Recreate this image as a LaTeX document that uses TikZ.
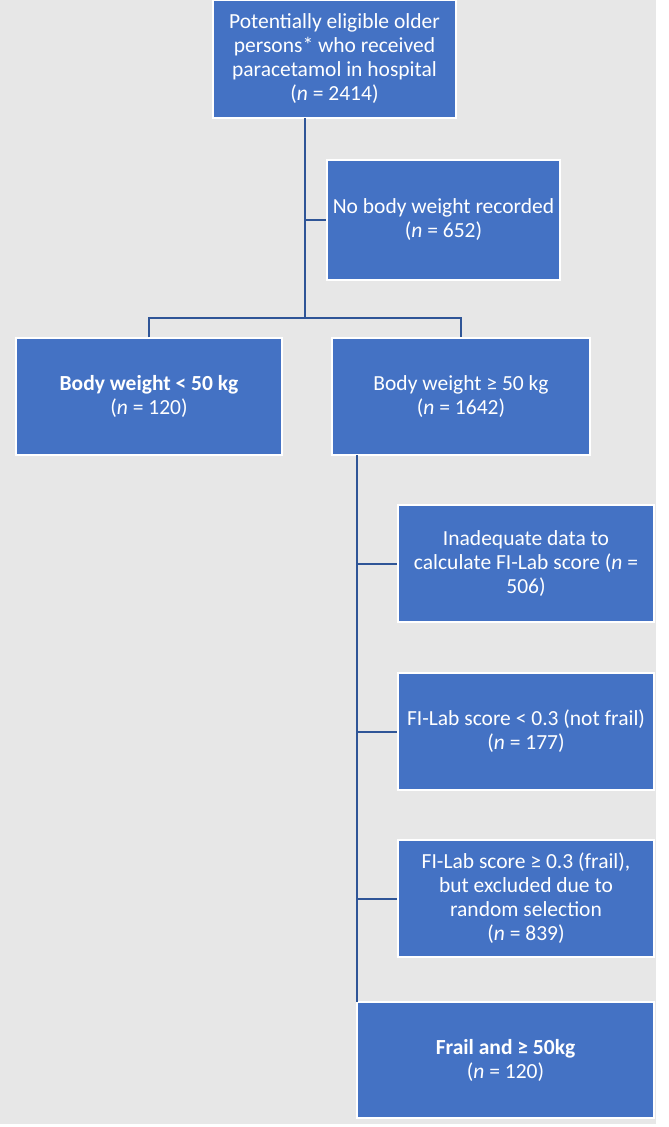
\documentclass[tikz,border=0pt]{standalone}
\usepackage{fontspec}
\setmainfont{Carlito}
\definecolor{boxblue}{HTML}{4472C4}
\definecolor{lineblue}{HTML}{2F5597}
\definecolor{bg}{HTML}{E7E7E7}
\begin{document}
\begin{tikzpicture}[x=1pt,y=-1pt,
  bx/.style={draw=white,line width=1.2pt,fill=boxblue,text=white,align=center,font=\fontsize{21.5}{24}\selectfont,inner sep=2pt},
  ln/.style={draw=lineblue,line width=2pt}]
\useasboundingbox (0,0) rectangle (669,1127);
\fill[bg] (0,0) rectangle (656,1124);
\node[bx,minimum width=243,minimum height=118] (top) at (334.5,59) {Potentially eligible older\\persons* who received\\paracetamol in hospital\\(\textit{n} = 2414)};
\node[bx,minimum width=233,minimum height=120] (nbw) at (443.5,220) {No body weight recorded\\(\textit{n} = 652)};
\node[bx,minimum width=266,minimum height=117] (lt) at (149,396.5) {\textbf{Body weight < 50 kg}\\(\textit{n} = 120)};
\node[bx,minimum width=258,minimum height=117] (ge) at (461,396.5) {Body weight ≥ 50 kg\\(\textit{n} = 1642)};
\node[bx,minimum width=256,minimum height=117] (ina) at (526,563.5) {Inadequate data to\\calculate FI-Lab score (\textit{n} =\\506)};
\node[bx,minimum width=256,minimum height=117] (nf) at (526,731.5) {FI-Lab score < 0.3 (not frail)\\(\textit{n} = 177)};
\node[bx,minimum width=256,minimum height=117] (fr) at (526,898.5) {FI-Lab score ≥ 0.3 (frail),\\but excluded due to\\random selection\\(\textit{n} = 839)};
\node[bx,minimum width=297,minimum height=116] (fin) at (505.5,1060) {\textbf{Frail and ≥ 50kg}\\(\textit{n} = 120)};
\coordinate (j1) at (305,318);
\coordinate (t1) at (305,118);
\draw[ln] (t1) -- (j1);
\draw[ln] (305,220) -- (nbw.west);
\draw[ln] (lt.north) -- (lt.north |- j1) -- (ge.north |- j1) -- (ge.north);
\coordinate (s2) at (357,455);
\draw[ln] (s2) -- (357,1002);
\draw[ln] (357,563.5) -- (ina.west);
\draw[ln] (357,731.5) -- (nf.west);
\draw[ln] (357,898.5) -- (fr.west);
\end{tikzpicture}
\end{document}
